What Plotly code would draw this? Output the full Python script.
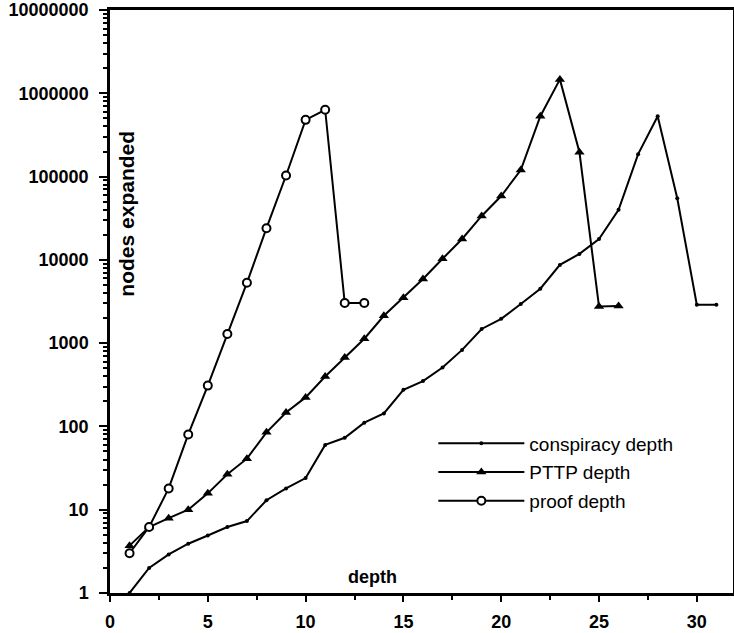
import plotly.graph_objects as go

# ---- data ----
conspiracy_depth = list(range(1, 32))
conspiracy_nodes = [1, 2, 2.9, 3.9, 4.9, 6.2, 7.3, 13, 18, 24, 60, 73, 111, 143, 275,
                    350, 510, 830, 1480, 1960, 2950, 4500, 8700, 11800, 17800, 40000,
                    186000, 530000, 55000, 2900, 2900]

pttp_depth = list(range(1, 27))
pttp_nodes = [3.7, 6.2, 7.9, 10, 15.7, 26.7, 41, 85, 147, 223, 397, 670, 1130, 2130,
              3500, 5900, 10300, 17800, 33700, 58500, 120000, 530000, 1470000, 196000,
              2750, 2800]

proof_depth = list(range(1, 14))
proof_nodes = [3, 6.2, 18, 80, 309, 1290, 5300, 24000, 103000, 480000, 635000, 3030, 3030]

series_names = ["conspiracy depth", "PTTP depth", "proof depth"]

x_tick_values = [0, 5, 10, 15, 20, 25, 30]
x_tick_labels = ["0", "5", "10", "15", "20", "25", "30"]
x_minor_values = [2.5, 7.5, 12.5, 17.5, 22.5, 27.5]

y_tick_values = [1, 10, 100, 1000, 10000, 100000, 1000000, 10000000]
y_tick_labels = ["1", "10", "100", "1000", "10000", "100000", "1000000", "10000000"]
y_minor_values = [m * 10 ** e for e in range(7) for m in range(2, 10)]

FONT = "Liberation Sans, Arial, sans-serif"
TICKFONT = dict(size=18, family="Liberation Sans", weight="bold", color="black")

fig = go.Figure()
fig.add_trace(go.Scatter(
    x=conspiracy_depth, y=conspiracy_nodes, mode="lines+markers", name=series_names[0],
    legendgroup="a",
    line=dict(color="black", width=2),
    marker=dict(symbol="circle", size=4, color="black")))
fig.add_trace(go.Scatter(
    x=pttp_depth, y=pttp_nodes, mode="lines+markers", name=series_names[1],
    legendgroup="b",
    line=dict(color="black", width=2),
    marker=dict(symbol="triangle-up", size=9, color="black")))
fig.add_trace(go.Scatter(
    x=proof_depth, y=proof_nodes, mode="lines+markers", name=series_names[2],
    legendgroup="c",
    line=dict(color="black", width=2),
    marker=dict(symbol="circle", size=8, color="white",
                line=dict(color="black", width=2))))

fig.update_layout(
    width=734, height=633,
    margin=dict(l=110, r=1, t=10, b=40, autoexpand=False),
    paper_bgcolor="white", plot_bgcolor="white",
    font=dict(family=FONT, color="black"),
    showlegend=True,
    legend=dict(x=0.519, y=0.289, xanchor="left", yanchor="top",
                bgcolor="rgba(0,0,0,0)", font=dict(size=19, family=FONT, color="black"),
                itemwidth=86, traceorder="grouped", tracegroupgap=1),
    xaxis=dict(range=[0, 31.85], tickmode="array", tickvals=x_tick_values,
               ticktext=x_tick_labels, automargin=False,
               ticks="outside", ticklen=6, tickwidth=2, tickcolor="black",
               showline=True, linecolor="black", linewidth=2.5, mirror=True,
               showgrid=False, zeroline=False, ticklabelstandoff=5,
               ticklabeloverflow="allow", tickfont=TICKFONT,
               minor=dict(tickmode="array", tickvals=x_minor_values, ticks="outside",
                          ticklen=4, tickwidth=1.5, tickcolor="black", showgrid=False)),
    yaxis=dict(type="log", range=[-0.0005, 7.0005], tickmode="array",
               tickvals=y_tick_values, ticktext=y_tick_labels, automargin=False,
               ticks="outside", ticklen=8, tickwidth=2, tickcolor="black",
               showline=True, linecolor="black", linewidth=2.5, mirror=True,
               showgrid=False, zeroline=False, ticklabelstandoff=7,
               ticklabeloverflow="allow", tickfont=TICKFONT,
               minor=dict(tickmode="array", tickvals=y_minor_values, ticks="outside",
                          ticklen=4, tickwidth=1.5, tickcolor="black", showgrid=False)),
    annotations=[
        dict(text="depth", xref="paper", yref="paper", x=0.422, y=0.027,
             xanchor="center", yanchor="middle",
             showarrow=False, font=dict(size=18, family=FONT, weight="bold")),
        dict(text="nodes expanded", xref="paper", yref="paper", x=0.025, y=0.65,
             xanchor="center", yanchor="middle",
             textangle=-90, showarrow=False,
             font=dict(size=21, family=FONT, weight="bold")),
    ],
)

# remove the browser's default 8px page margin so the figure sits at the page origin
fig.write_html("out.html", config={"displayModeBar": False},
               post_script="document.body.style.margin='0px';")
